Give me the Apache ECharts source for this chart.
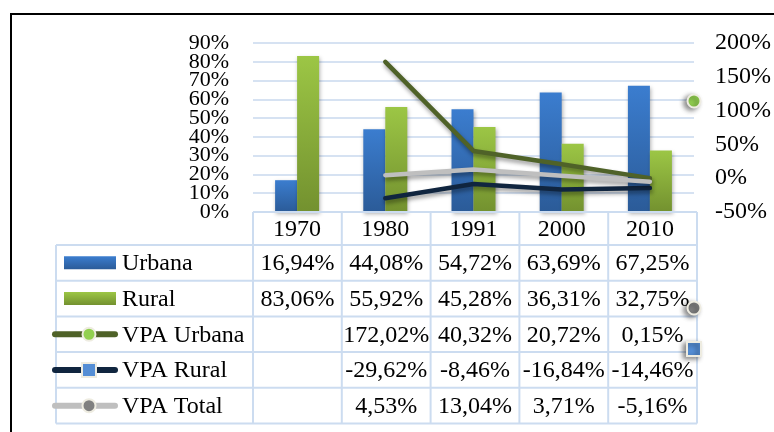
<!DOCTYPE html>
<html>
<head>
<meta charset="utf-8">
<script src="https://cdn.jsdelivr.net/npm/echarts@6/dist/echarts.min.js"></script>
<style>html,body{margin:0;padding:0;background:#fff;}#c{width:774px;height:432px;}</style>
</head>
<body>
<div id="c"></div>
<script>
var years = ['1970', '1980', '1991', '2000', '2010'];
var urbana = [16.94, 44.08, 54.72, 63.69, 67.25];
var rural = [83.06, 55.92, 45.28, 36.31, 32.75];
var vpaUrbana = [null, 172.02, 40.32, 20.72, 0.15];
var vpaRural = [null, -29.62, -8.46, -16.84, -14.46];
var vpaTotal = [null, 4.53, 13.04, 3.71, -5.16];
var seriesNames = ['Urbana', 'Rural', 'VPA Urbana', 'VPA Rural', 'VPA Total'];

var FONT = '"Liberation Serif", "Times New Roman", serif';
var GL = 253, GR = 697, GT = 43, GB = 212;
var colW = (GR - GL) / years.length;
var tableTop = 245, rowH = 35.7, legLeft = 56;
var gridColor = '#D6E2F2';
var cellColor = '#CCDCF0';
var TF = 24;

function grad(c1, c2) {
  return new echarts.graphic.LinearGradient(0, 0, 0, 1, [{offset: 0, color: c1}, {offset: 1, color: c2}]);
}
var urbGrad = ['#3B7DCF', '#2B5B98'];
var rurGrad = ['#9CC645', '#73912F'];
var lineColors = ['#4F6228', '#10253F', '#BFBFBF'];
var markerFill = ['#92D050', '#558ED5', '#808080'];
var markerBorder = '#EEECE1';

function fmt(v) {
  if (v === null || v === undefined) return '';
  return v.toFixed(2).replace('.', ',') + '%';
}

var rows = [urbana, rural, vpaUrbana, vpaRural, vpaTotal];
var g = [];
g.push({type: 'rect', shape: {x: 11, y: 14, width: 900, height: 600}, style: {fill: 'none', stroke: '#000', lineWidth: 2}, z: 100});
var tableBottom = tableTop + rowH * rows.length;
g.push({type: 'line', shape: {x1: GL, y1: GB, x2: GR, y2: GB}, style: {stroke: cellColor, lineWidth: 2}, z: 10});
for (var r = 0; r <= rows.length; r++) {
  var y = tableTop + r * rowH;
  g.push({type: 'line', shape: {x1: legLeft, y1: y, x2: GR, y2: y}, style: {stroke: cellColor, lineWidth: 2}, z: 10});
}
g.push({type: 'line', shape: {x1: legLeft, y1: tableTop, x2: legLeft, y2: tableBottom}, style: {stroke: cellColor, lineWidth: 2}, z: 10});
for (var c = 0; c <= years.length; c++) {
  var x = GL + c * colW;
  g.push({type: 'line', shape: {x1: x, y1: GB, x2: x, y2: tableBottom}, style: {stroke: cellColor, lineWidth: 2}, z: 10});
}
for (var r2 = 0; r2 < rows.length; r2++) {
  var cy = tableTop + (r2 + 0.5) * rowH;
  for (var c2 = 0; c2 < years.length; c2++) {
    var txt = fmt(rows[r2][c2]);
    if (!txt) continue;
    g.push({type: 'text', x: GL + (c2 + 0.5) * colW, y: cy + 1, style: {text: txt, font: TF + 'px ' + FONT, fill: '#000', align: 'center', verticalAlign: 'middle'}, z: 20});
  }
  g.push({type: 'text', x: 122, y: cy + 1, style: {text: seriesNames[r2], font: TF + 'px ' + FONT, fill: '#000', align: 'left', verticalAlign: 'middle'}, z: 20});
  if (r2 < 2) {
    var gc = r2 === 0 ? urbGrad : rurGrad;
    g.push({type: 'rect', shape: {x: 64, y: cy - 6.5, width: 52, height: 13}, style: {fill: grad(gc[0], gc[1])}, z: 20});
  } else {
    var li = r2 - 2;
    g.push({type: 'line', shape: {x1: 55, y1: cy, x2: 115, y2: cy}, style: {stroke: lineColors[li], lineWidth: 6, lineCap: 'round'}, z: 20});
    if (li === 1) {
      g.push({type: 'rect', shape: {x: 82, y: cy - 7, width: 14, height: 14}, style: {fill: markerFill[li], stroke: markerBorder, lineWidth: 2}, z: 21});
    } else {
      g.push({type: 'circle', shape: {cx: 89, cy: cy, r: 6.5}, style: {fill: markerFill[li], stroke: markerBorder, lineWidth: 2}, z: 21});
    }
  }
}
var shadow = {shadowBlur: 5, shadowOffsetX: -3, shadowOffsetY: 2, shadowColor: 'rgba(0,0,0,0.45)'};
g.push({type: 'circle', shape: {cx: 694, cy: 101, r: 6.5}, style: Object.assign({fill: markerFill[0], stroke: markerBorder, lineWidth: 2}, shadow), z: 30});
g.push({type: 'circle', shape: {cx: 694, cy: 308, r: 6.5}, style: Object.assign({fill: markerFill[2], stroke: markerBorder, lineWidth: 2}, shadow), z: 30});
g.push({type: 'rect', shape: {x: 687, y: 342, width: 14, height: 14}, style: Object.assign({fill: markerFill[1], stroke: markerBorder, lineWidth: 2}, shadow), z: 30});

var lineShadow = {shadowBlur: 4, shadowOffsetX: 1, shadowOffsetY: 3, shadowColor: 'rgba(0,0,0,0.4)'};
function lineSeries(name, data, idx) {
  return {
    name: name, type: 'line', yAxisIndex: 1, data: data, symbol: 'none', smooth: false, z: 5 + idx,
    lineStyle: Object.assign({color: lineColors[idx], width: 4.5, cap: 'round', join: 'round'}, lineShadow),
    itemStyle: {color: lineColors[idx]}
  };
}
var leftLabel = {formatter: '{value}%', fontSize: 22, fontFamily: FONT, color: '#000', margin: 24};

var option = {
  animation: false,
  backgroundColor: '#fff',
  textStyle: {fontFamily: FONT},
  grid: {left: GL, right: 774 - GR, top: GT, bottom: 432 - GB, containLabel: false},
  xAxis: {
    type: 'category', data: years,
    axisLine: {show: false}, axisTick: {show: false},
    axisLabel: {fontSize: TF, fontFamily: FONT, color: '#000', margin: 6}
  },
  yAxis: [
    {
      type: 'value', position: 'left', min: 0, max: 90, interval: 10,
      axisLabel: Object.assign({showMinLabel: false, showMaxLabel: false}, leftLabel),
      axisLine: {show: false}, axisTick: {show: false},
      splitLine: {show: true, lineStyle: {color: gridColor, width: 2}}
    },
    {
      type: 'value', position: 'right', min: -50, max: 200, interval: 50,
      axisLabel: {formatter: '{value}%', fontSize: TF, fontFamily: FONT, color: '#000', margin: 21},
      axisLine: {show: false}, axisTick: {show: false},
      splitLine: {show: false}
    },
    {
      type: 'value', position: 'left', offset: 0, min: 0, max: 90, interval: 90,
      axisLabel: leftLabel,
      axisLine: {show: false}, axisTick: {show: false},
      splitLine: {show: false}
    }
  ],
  series: [
    {name: 'Urbana', type: 'bar', data: urbana, barWidth: 22, barGap: '0%', z: 2,
     itemStyle: {color: grad(urbGrad[0], urbGrad[1]), shadowBlur: 4, shadowOffsetX: 1, shadowOffsetY: 2, shadowColor: 'rgba(0,0,0,0.3)'}},
    {name: 'Rural', type: 'bar', data: rural, barWidth: 22, barGap: '0%', z: 2,
     itemStyle: {color: grad(rurGrad[0], rurGrad[1]), shadowBlur: 4, shadowOffsetX: 1, shadowOffsetY: 2, shadowColor: 'rgba(0,0,0,0.3)'}},
    lineSeries('VPA Urbana', vpaUrbana, 0),
    lineSeries('VPA Rural', vpaRural, 1),
    lineSeries('VPA Total', vpaTotal, 2)
  ],
  graphic: g
};
var chart = echarts.init(document.getElementById('c'), null, {renderer: 'canvas'});
chart.setOption(option);
</script>
</body>
</html>
